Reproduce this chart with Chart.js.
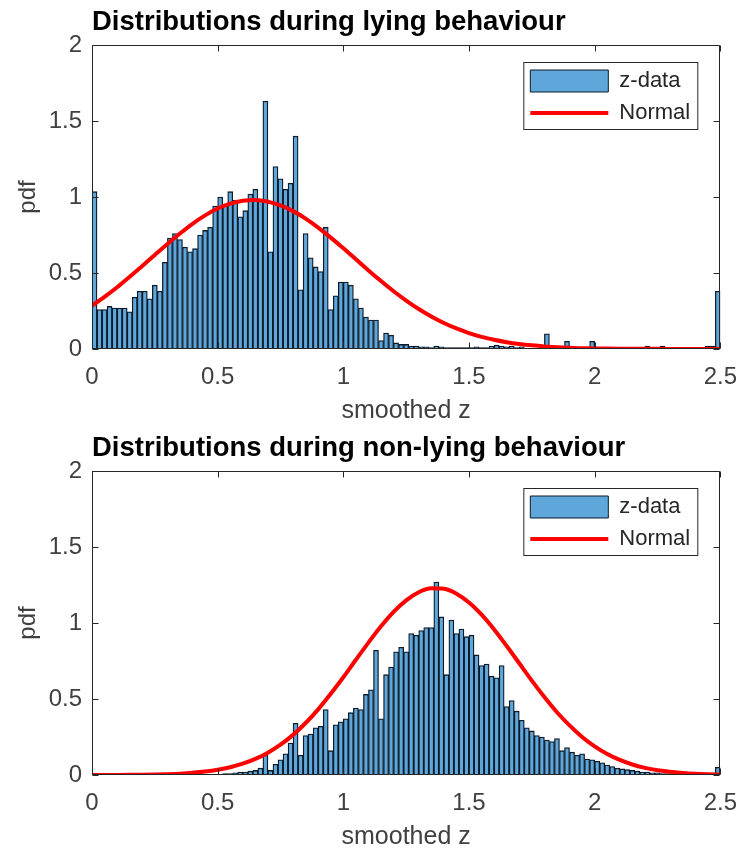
<!DOCTYPE html>
<html><head><meta charset="utf-8">
<script src="https://cdn.jsdelivr.net/npm/chart.js@4/dist/chart.umd.min.js"></script>
<style>
html,body{margin:0;padding:0;background:#fff;}
#wrap{position:relative;width:751px;height:855px;overflow:hidden;}
.c{position:absolute;left:0;width:751px;height:427px;}
</style></head><body>
<div id="wrap">
<div class="c" style="top:0"><canvas id="c1" width="751" height="427"></canvas></div>
<div class="c" style="top:426px"><canvas id="c2" width="751" height="427"></canvas></div>
</div>
<script>
// ---------- data ----------
const binWidth = 0.02;
const xTicks = [0, 0.5, 1, 1.5, 2, 2.5];
const xTickLabels = ['0', '0.5', '1', '1.5', '2', '2.5'];
const yTicks = [0, 0.5, 1, 1.5, 2];
const yTickLabels = ['0', '0.5', '1', '1.5', '2'];
const lyingTitle = 'Distributions during lying behaviour';
const nonLyingTitle = 'Distributions during non-lying behaviour';
const xLabel = 'smoothed z';
const yLabel = 'pdf';
const histLabel = 'z-data';
const fitLabel = 'Normal';

const lyingHist = [
 1.035,0.26,0.26,0.28,0.27,0.27,0.27,0.245,0.34,0.38,
 0.38,0.33,0.42,0.38,0.57,0.73,0.76,0.72,0.67,0.64,
 0.66,0.75,0.78,0.80,0.94,1.00,0.94,1.035,0.98,0.87,
 0.91,1.02,1.05,0.98,1.63,0.64,1.20,1.12,1.05,1.09,
 1.40,0.39,0.76,0.60,0.54,0.51,0.80,0.26,0.35,0.44,
 0.44,0.42,0.33,0.27,0.21,0.19,0.19,0.055,0.105,0.09,
 0.04,0.03,0.03,0.02,0.02,0.015,0.015,0.01,0.02,0.015,
 0.01,0.01,0.01,0.01,0.01,0.01,0.015,0.01,0.01,0.02,
 0.025,0.02,0.015,0.02,0.01,0.015,0,0,0,0,
 0.10,0,0,0,0.05,0,0,0,0,0.05,
 0,0,0,0,0,0,0,0,0,0,
 0.02,0,0,0.02,0,0,0,0,0,0,
 0,0,0.02,0.02,0.38
];
const nonLyingHist = [
 0,0,0,0,0,0,0,0,0,0,
 0,0,0,0,0,0,0,0,0,0,
 0,0,0,0.003,0.005,0.005,0.01,0.01,0.015,0.02,
 0.02,0.025,0.03,0.045,0.13,0.03,0.07,0.10,0.14,0.21,
 0.34,0.13,0.26,0.27,0.31,0.32,0.43,0.16,0.33,0.35,
 0.37,0.41,0.44,0.43,0.53,0.56,0.82,0.37,0.66,0.71,
 0.81,0.84,0.81,0.93,0.92,0.95,0.97,0.97,1.27,1.04,
 0.66,1.02,0.93,0.96,0.91,0.92,0.79,0.72,0.73,0.65,
 0.64,0.72,0.45,0.49,0.42,0.36,0.31,0.29,0.26,0.25,
 0.23,0.22,0.24,0.16,0.18,0.15,0.13,0.14,0.105,0.10,
 0.09,0.08,0.065,0.055,0.045,0.04,0.035,0.03,0.025,0.02,
 0.02,0.015,0.015,0.01,0.01,0.01,0.01,0.005,0.005,0.005,
 0.005,0.005,0.005,0.005,0.05
];
const curveX = [
 0,0.05,0.1,0.15,0.2,0.25,0.3,0.35,0.4,0.45,
 0.5,0.55,0.6,0.65,0.7,0.75,0.8,0.85,0.9,0.95,
 1,1.05,1.1,1.15,1.2,1.25,1.3,1.35,1.4,1.45,
 1.5,1.55,1.6,1.65,1.7,1.75,1.8,1.85,1.9,1.95,
 2,2.05,2.1,2.15,2.2,2.25,2.3,2.35,2.4,2.45,2.5
];
const lyingNormal = [
 0.285,0.343,0.406,0.475,0.546,0.619,0.691,0.760,0.824,0.879,
 0.924,0.956,0.975,0.980,0.969,0.945,0.907,0.858,0.799,0.733,
 0.663,0.590,0.517,0.447,0.380,0.319,0.263,0.214,0.171,0.135,
 0.105,0.080,0.061,0.045,0.033,0.024,0.017,0.012,0.008,0.005,
 0.004,0.003,0.002,0.001,0.001,0.001,0,0,0,0,0
];
const nonLyingNormal = [
 0.0002,0.0003,0.0006,0.0011,0.0019,0.0032,0.0055,0.0089,0.0143,0.0224,
 0.0342,0.051,0.0744,0.1058,0.147,0.1995,0.264,0.342,0.432,0.534,
 0.643,0.758,0.871,0.978,1.073,1.149,1.202,1.228,1.225,1.193,
 1.135,1.055,0.958,0.849,0.735,0.621,0.513,0.413,0.326,0.250,
 0.188,0.138,0.099,0.069,0.047,0.031,0.021,0.013,0.008,0.005,0.003
];

// ---------- styling ----------
const FONT = "'Liberation Sans', Arial, Helvetica, sans-serif";
const TEXT = '#404040';
const AXIS = '#262626';

const axesBox = {
  id: 'axesBox',
  beforeDraw(chart) {
    const {ctx, chartArea: a} = chart;
    const lx = a.right - 197, ly = a.top + 17, lw = 174, lh = 67;
    ctx.save();
    ctx.fillStyle = '#fff';
    ctx.fillRect(lx, ly, lw, lh);
    ctx.strokeStyle = AXIS;
    ctx.lineWidth = 1;
    ctx.strokeRect(lx + 0.5, ly + 0.5, lw, lh);
    ctx.restore();
  },
  afterLayout(chart) {
    const lg = chart.legend, a = chart.chartArea;
    if (!lg) return;
    lg.left = a.right - 200;
    lg.top = a.top + 15;
    lg.width = 190;
    lg.height = 80;
    lg.right = lg.left + lg.width;
    lg.bottom = lg.top + lg.height;
  },
  afterDraw(chart) {
    const {ctx, chartArea: a, scales: {x, y}} = chart;
    const L = Math.round(a.left) + 0.5, R = Math.round(a.right) - 0.5;
    const T = Math.round(a.top) + 0.5, B = Math.round(a.bottom) - 0.5;
    ctx.save();
    ctx.strokeStyle = AXIS;
    ctx.lineWidth = 1;
    ctx.beginPath();
    ctx.rect(L, T, R - L, B - T);
    const tl = 6;
    x.ticks.forEach(t => {
      const p = Math.round(x.getPixelForValue(t.value)) + 0.5;
      ctx.moveTo(p, B); ctx.lineTo(p, B - tl);
      ctx.moveTo(p, T); ctx.lineTo(p, T + tl);
    });
    y.ticks.forEach(t => {
      const p = Math.round(y.getPixelForValue(t.value)) + 0.5;
      ctx.moveTo(L, p); ctx.lineTo(L + tl, p);
      ctx.moveTo(R, p); ctx.lineTo(R - tl, p);
    });
    ctx.stroke();
    ctx.restore();
  }
};

function makeChart(id, title, hist, normal) {
  const bars = hist.map((v, i) => ({x: (i + 0.5) * binWidth, y: v}));
  const line = curveX.map((xv, i) => ({x: xv, y: normal[i]}));
  return new Chart(document.getElementById(id), {
    type: 'bar',
    data: {
      datasets: [
        {
          type: 'bar', label: histLabel, data: bars, order: 1,
          backgroundColor: '#5fa7db', borderColor: '#0d1b28', borderWidth: 1.3,
          barPercentage: 1, categoryPercentage: 1, borderSkipped: 'start'
        },
        {
          type: 'line', label: fitLabel, data: line, order: 0,
          borderColor: '#ff0000', backgroundColor: '#ff0000', borderWidth: 4,
          pointRadius: 0, cubicInterpolationMode: 'monotone', fill: false
        }
      ]
    },
    options: {
      responsive: false,
      animation: false,
      devicePixelRatio: 1,
      events: [],
      layout: {padding: {left: 0, right: 23, top: 0, bottom: 0}},
      plugins: {
        tooltip: {enabled: false},
        title: {
          display: true, text: title, align: 'start', fullSize: false,
          color: '#000', font: {family: FONT, size: 27.5, weight: 'bold'},
          padding: {top: 6, bottom: 6}
        },
        legend: {
          display: true, position: 'chartArea', align: 'start',
          labels: {
            usePointStyle: true, pointStyleWidth: 78, boxHeight: 22, padding: 10,
            font: {family: FONT, size: 22}, color: AXIS,
            sort: (a, b) => a.datasetIndex - b.datasetIndex,
            generateLabels(chart) {
              const items = Chart.defaults.plugins.legend.labels.generateLabels(chart);
              items.forEach(it => {
                const ds = chart.data.datasets[it.datasetIndex];
                if (ds.type === 'line') { it.pointStyle = 'line'; it.lineWidth = 4; }
                else { it.pointStyle = 'rect'; it.lineWidth = 1; }
              });
              return items;
            }
          }
        }
      },
      scales: {
        x: {
          type: 'linear', min: 0, max: 2.5, offset: false,
          afterBuildTicks: s => { s.ticks = xTicks.map(v => ({value: v})); },
          afterFit: s => { s.height = 78; },
          grid: {display: false, drawTicks: false}, border: {display: false},
          ticks: {font: {family: FONT, size: 24}, color: TEXT, padding: 14, maxRotation: 0, autoSkip: false,
                  callback: (v, i) => xTickLabels[i]},
          title: {display: true, text: xLabel, font: {family: FONT, size: 25}, color: TEXT, padding: {top: 0, bottom: 1}}
        },
        y: {
          type: 'linear', min: 0, max: 2,
          afterBuildTicks: s => { s.ticks = yTicks.map(v => ({value: v})); },
          afterFit: s => { s.width = 92; },
          grid: {display: false, drawTicks: false}, border: {display: false},
          ticks: {font: {family: FONT, size: 24}, color: TEXT, padding: 10,
                  callback: (v, i) => yTickLabels[i]},
          title: {display: true, text: yLabel, font: {family: FONT, size: 24}, color: TEXT, padding: {top: 14, bottom: 0}}
        }
      }
    },
    plugins: [axesBox]
  });
}

makeChart('c1', lyingTitle, lyingHist, lyingNormal);
makeChart('c2', nonLyingTitle, nonLyingHist, nonLyingNormal);
</script>
</body></html>
